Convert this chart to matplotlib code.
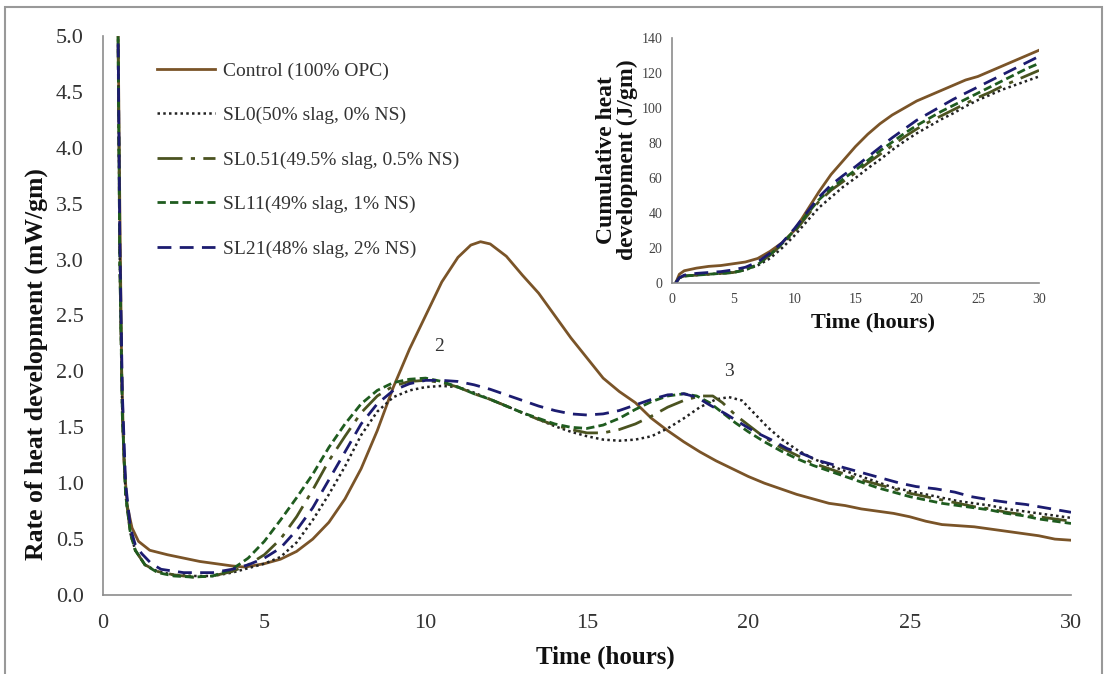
import numpy as np
import matplotlib.pyplot as plt
from matplotlib.patches import Rectangle

plt.rcParams['font.family'] = ['Liberation Serif', 'DejaVu Serif']

# ---- rate of heat development (mW/gm) ----
t_ctrl = [0.45, 0.52, 0.58, 0.65, 0.75, 0.9, 1.1, 1.45, 2.0, 2.5, 3.0, 3.5, 4.0, 4.4, 5.0, 5.5,
          6.0, 6.5, 7.0, 7.5, 8.0, 8.5, 9.0, 9.5, 10.0, 10.5, 11.0, 11.4, 11.7, 12.0, 12.5, 13.0,
          13.5, 14.0, 14.5, 15.0, 15.5, 16.0, 16.5, 17.0, 17.5, 18.0, 18.5, 19.0, 19.5, 20.0,
          20.5, 21.0, 21.5, 22.0, 22.5, 23.0, 23.5, 24.0, 24.5, 25.0, 25.5, 26.0, 26.5, 27.0,
          27.5, 28.0, 28.5, 29.0, 29.5, 30.0]
v_ctrl = [5.6, 3.5, 2.0, 1.2, 0.8, 0.6, 0.48, 0.4, 0.36, 0.33, 0.3, 0.28, 0.26, 0.25, 0.28, 0.32,
          0.39, 0.5, 0.65, 0.86, 1.13, 1.47, 1.86, 2.2, 2.5, 2.8, 3.02, 3.13, 3.16, 3.14, 3.03, 2.86,
          2.7, 2.5, 2.3, 2.12, 1.94, 1.82, 1.72, 1.58, 1.47, 1.37, 1.28, 1.2, 1.13, 1.06,
          1.0, 0.95, 0.9, 0.86, 0.82, 0.8, 0.77, 0.75, 0.73, 0.7, 0.66, 0.63, 0.62, 0.61,
          0.59, 0.57, 0.55, 0.53, 0.5, 0.49]

t_sl = [0.45, 0.52, 0.6, 0.7, 0.85, 1.0, 1.3, 1.7, 2.2, 2.8, 3.4, 4.0, 4.5, 5.0, 5.5, 6.0,
        6.5, 7.0, 7.5, 8.0, 8.5, 9.0, 9.5, 10.0, 10.5, 11.0, 11.5, 12.0, 12.5, 13.0, 13.5,
        14.0, 14.5, 15.0, 15.5, 16.0, 16.5, 17.0, 17.5, 18.0, 18.5, 19.0, 19.4, 19.8, 20.2,
        20.6, 21.0, 21.5, 22.0, 22.5, 23.0, 23.5, 24.0, 24.5, 25.0, 25.5, 26.0, 26.5, 27.0,
        27.5, 28.0, 28.5, 29.0, 29.5, 30.0]
v_sl0 = [5.6, 3.0, 1.6, 0.9, 0.55, 0.4, 0.27, 0.21, 0.18, 0.17, 0.17, 0.2, 0.24, 0.28, 0.34, 0.47,
         0.67, 0.9, 1.15, 1.43, 1.64, 1.77, 1.83, 1.86, 1.87, 1.86, 1.81, 1.75, 1.69, 1.63, 1.57,
         1.51, 1.46, 1.42, 1.39, 1.38, 1.39, 1.42, 1.49, 1.58, 1.68, 1.75, 1.77, 1.74, 1.62,
         1.5, 1.4, 1.3, 1.22, 1.16, 1.11, 1.06, 1.01, 0.96, 0.93, 0.9, 0.87, 0.84, 0.82,
         0.8, 0.77, 0.75, 0.73, 0.71, 0.69]

t_sl051 = [0.45, 0.52, 0.6, 0.7, 0.85, 1.0, 1.3, 1.7, 2.2, 2.8, 3.4, 4.0, 4.5, 5.0, 5.5, 6.0,
           6.5, 7.0, 7.5, 8.0, 8.5, 9.0, 9.5, 10.0, 10.5, 11.0, 11.5, 12.0, 12.5, 13.0, 13.5,
           14.0, 14.5, 15.0, 15.5, 16.0, 16.5, 17.0, 17.5, 18.0, 18.5, 18.9, 19.2, 19.6, 20.0,
           20.5, 21.0, 21.5, 22.0, 22.5, 23.0, 23.5, 24.0, 24.5, 25.0, 25.5, 26.0, 26.5, 27.0,
           27.5, 28.0, 28.5, 29.0, 29.5, 30.0]
v_sl051 = [5.6, 3.0, 1.6, 0.9, 0.55, 0.4, 0.27, 0.21, 0.18, 0.16, 0.17, 0.21, 0.27, 0.36, 0.5, 0.7,
           0.94, 1.2, 1.42, 1.63, 1.78, 1.87, 1.91, 1.92, 1.9, 1.86, 1.8, 1.75, 1.69, 1.63, 1.57,
           1.52, 1.48, 1.45, 1.45, 1.48, 1.53, 1.6, 1.68, 1.74, 1.78, 1.78, 1.72, 1.61, 1.52,
           1.41, 1.32, 1.25, 1.18, 1.13, 1.08, 1.03, 0.99, 0.95, 0.91, 0.88, 0.85, 0.82, 0.79,
           0.77, 0.74, 0.72, 0.7, 0.68, 0.66]

t_sl11 = [0.45, 0.52, 0.6, 0.7, 0.85, 1.0, 1.3, 1.7, 2.2, 2.8, 3.4, 4.0, 4.5, 5.0, 5.5, 6.0,
          6.5, 7.0, 7.5, 8.0, 8.5, 9.0, 9.5, 10.0, 10.5, 11.0, 11.5, 12.0, 12.5, 13.0, 13.5,
          14.0, 14.5, 15.0, 15.5, 16.0, 16.5, 17.0, 17.5, 18.0, 18.4, 18.8, 19.2, 19.6, 20.0,
          20.5, 21.0, 21.5, 22.0, 22.5, 23.0, 23.5, 24.0, 24.5, 25.0, 25.5, 26.0, 26.5, 27.0,
          27.5, 28.0, 28.5, 29.0, 29.5, 30.0]
v_sl11 = [5.6, 3.0, 1.6, 0.9, 0.55, 0.4, 0.27, 0.2, 0.17, 0.16, 0.17, 0.23, 0.33, 0.48, 0.67, 0.87,
          1.08, 1.32, 1.53, 1.71, 1.83, 1.9, 1.93, 1.94, 1.91, 1.86, 1.8, 1.75, 1.69, 1.63, 1.58,
          1.53, 1.5, 1.49, 1.52, 1.58, 1.66, 1.73, 1.78, 1.8, 1.78, 1.72, 1.63, 1.54, 1.46,
          1.37, 1.29, 1.22, 1.16, 1.11, 1.06, 1.01, 0.96, 0.92, 0.88, 0.85, 0.82, 0.8, 0.78,
          0.76, 0.73, 0.71, 0.68, 0.66, 0.64]

t_sl21 = [0.45, 0.52, 0.6, 0.7, 0.85, 1.0, 1.2, 1.5, 1.8, 2.5, 3.4, 4.0, 4.5, 5.0, 5.5, 6.0,
          6.5, 7.0, 7.5, 8.0, 8.5, 9.0, 9.5, 10.0, 10.5, 11.0, 11.5, 12.0, 12.5, 13.0, 13.5,
          14.0, 14.5, 15.0, 15.5, 16.0, 16.5, 17.0, 17.5, 18.0, 18.4, 18.8, 19.3, 19.8, 20.2,
          20.7, 21.2, 21.7, 22.2, 22.7, 23.2, 23.7, 24.2, 24.7, 25.2, 25.8, 26.4, 26.9, 27.5,
          28.0, 28.6, 29.2, 29.8, 30.0]
v_sl21 = [5.6, 3.2, 1.8, 1.0, 0.6, 0.45, 0.37, 0.28, 0.23, 0.2, 0.2, 0.23, 0.27, 0.33, 0.42, 0.58,
          0.78, 1.03, 1.28, 1.53, 1.71, 1.83, 1.89, 1.92, 1.92, 1.91, 1.88, 1.84, 1.79, 1.74, 1.69,
          1.65, 1.62, 1.61, 1.62, 1.65, 1.7, 1.75, 1.79, 1.8, 1.77, 1.7, 1.62, 1.53, 1.46,
          1.39, 1.31, 1.26, 1.2, 1.16, 1.12, 1.08, 1.04, 1.0, 0.97, 0.95, 0.92, 0.88, 0.85,
          0.83, 0.81, 0.78, 0.75, 0.74]

# ---- cumulative heat (J/gm), inset ----
t_cum = [0.3, 0.6, 1, 2, 3, 4, 5, 6, 7, 8, 9, 10, 11, 12, 13, 14, 15, 16, 17, 18, 19, 20,
         21, 22, 23, 24, 25, 26, 27, 28, 29, 30]
c_ctrl = [0, 5, 7, 8.5, 9.5, 10, 11, 12, 14, 18, 23, 30, 41, 52, 62, 70, 78, 85, 91, 96, 100, 104,
          107, 110, 113, 116, 118, 121, 124, 127, 130, 133]
c_sl0 = [0, 3, 4, 4.5, 5, 5.5, 6, 7.5, 10, 14, 20, 27, 35, 43, 49, 55, 60, 65.5, 70.5, 76, 81, 85.5,
         89.5, 93.5, 97, 101, 104.5, 107.5, 110.5, 113, 115.5, 118]
c_sl051 = [0, 3, 4, 4.5, 5, 5.5, 6, 7.5, 10.5, 16, 22, 29, 38, 46.5, 53, 58, 63, 68.5, 73.5, 78.5, 83.5, 88,
           92, 95.5, 99, 102.5, 106, 109, 112.5, 115.5, 118.5, 121.5]
c_sl11 = [0, 3, 4, 4.5, 5, 5.5, 6, 7.5, 10.5, 16, 22.5, 30, 39, 47.5, 54, 59.5, 64.5, 70, 75.5, 80.5, 85.5, 90,
          94, 98, 101.5, 105, 108.5, 112, 115.5, 119, 122.5, 125.5]
c_sl21 = [0, 3, 4.5, 5.5, 6, 6.5, 7.5, 9, 12, 17, 23, 31, 40, 49, 56, 61.5, 66.5, 72, 77.5, 83, 88, 93,
          97, 101, 105, 108.5, 112, 115.5, 119, 122.5, 126, 129.5]

labels = ['Control (100% OPC)', 'SL0(50% slag, 0% NS)', 'SL0.51(49.5% slag, 0.5% NS)',
          'SL11(49% slag, 1% NS)', 'SL21(48% slag, 2% NS)']
colors = ['#7a5428', '#222222', '#4b5320', '#1f5c1f', '#1c1c70']
styles = ['-', (0, (1, 1.3)), (0, (9, 3, 1.5, 3)), (0, (3, 1.5)), (0, (5, 3))]
widths = [2.0, 1.8, 2.0, 2.0, 2.0]

rate = [(t_ctrl, v_ctrl), (t_sl, v_sl0), (t_sl051, v_sl051), (t_sl11, v_sl11), (t_sl21, v_sl21)]
cum = [c_ctrl, c_sl0, c_sl051, c_sl11, c_sl21]

W, H = 1107, 674
fig = plt.figure(figsize=(W / 100, H / 100), dpi=100)
spine_col = '#8c8c8c'
txt_col = '#333333'

ax = fig.add_axes([103 / W, 1 - 595 / H, (1071 - 103) / W, (595 - 36) / H])
for (t, v), lab, c, ls, lw in zip(rate, labels, colors, styles, widths):
    ax.plot(t, v, color=c, linestyle=ls, linewidth=lw, label=lab)
ax.set_xlim(0, 30)
ax.set_ylim(0, 5)
ax.set_xticks(np.arange(0, 31, 5))
ax.set_yticks(np.arange(0, 5.01, 0.5))
ax.set_yticklabels([f'{y:.1f}' for y in np.arange(0, 5.01, 0.5)])
ax.tick_params(length=0, labelsize=16, colors=txt_col)
ax.tick_params(axis='y', pad=14)
ax.tick_params(axis='x', pad=14)
for s in ['top', 'right']:
    ax.spines[s].set_visible(False)
for s in ['left', 'bottom']:
    ax.spines[s].set_color(spine_col)
    ax.spines[s].set_linewidth(1.2)

ax.text(10.4, 2.22, '2', fontsize=14, color=txt_col, ha='center', va='center')
ax.text(19.4, 2.0, '3', fontsize=14, color=txt_col, ha='center', va='center')

leg = ax.legend(loc='upper left', bbox_to_anchor=(157 / W, 1 - 62 / H),
                bbox_transform=fig.transFigure, frameon=False, fontsize=14,
                handlelength=3.0, handletextpad=0.4, labelspacing=1.38,
                borderpad=0, borderaxespad=0)
for txt in leg.get_texts():
    txt.set_color(txt_col)

fig.text(36 / W, 1 - 364 / H, 'Rate of heat development (mW/gm)', rotation=90,
         fontsize=18.5, fontweight='bold', ha='center', va='center', color='#111111')
fig.text(605 / W, 1 - 657 / H, 'Time (hours)', fontsize=18, fontweight='bold',
         ha='center', va='center', color='#111111')

# inset
ax2 = fig.add_axes([672 / W, 1 - 283 / H, (1039 - 672) / W, (283 - 38) / H])
for y, c, ls, lw in zip(cum, colors, styles, widths):
    ax2.plot(t_cum, y, color=c, linestyle=ls, linewidth=lw)
ax2.set_xlim(0, 30)
ax2.set_ylim(0, 140)
ax2.set_xticks(np.arange(0, 31, 5))
ax2.set_yticks(np.arange(0, 141, 20))
ax2.tick_params(length=0, labelsize=10, colors='#444444', pad=7)
for s in ['top', 'right']:
    ax2.spines[s].set_visible(False)
for s in ['left', 'bottom']:
    ax2.spines[s].set_color(spine_col)
    ax2.spines[s].set_linewidth(1.2)

fig.text(617 / W, 1 - 160 / H, 'Cumulative heat\ndevelopment (J/gm)', rotation=90,
         fontsize=17, fontweight='bold', ha='center', va='center', color='#111111',
         linespacing=1.0)
fig.text(873 / W, 1 - 322 / H, 'Time (hours)', fontsize=16, fontweight='bold',
         ha='center', va='center', color='#111111')

# outer frame
fig.patches.append(Rectangle((5 / W, -0.02), (1102 - 5) / W, 1 - 7 / H + 0.02,
                             transform=fig.transFigure, fill=False,
                             edgecolor='#999999', linewidth=1.5))

fig.savefig('out.png', dpi=100)
